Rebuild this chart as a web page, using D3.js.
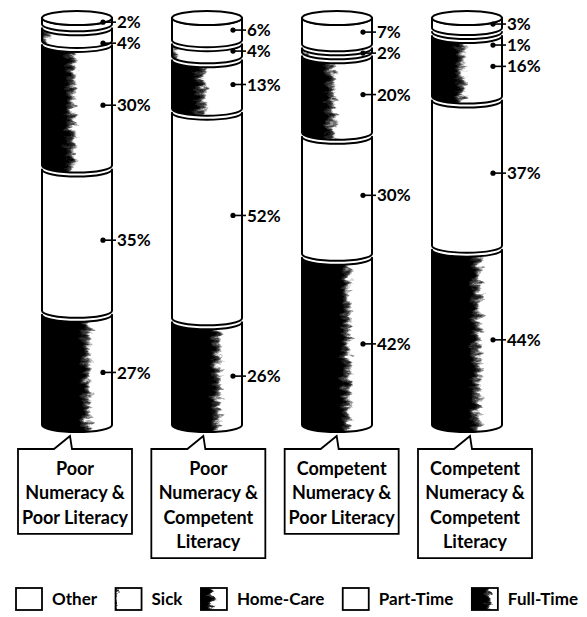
<!DOCTYPE html>
<html>
<head>
<meta charset="utf-8">
<script src="https://cdn.jsdelivr.net/npm/d3@7"></script>
<style>
  html, body { margin: 0; padding: 0; background: #fff; }
  svg { display: block; font-family: Lato, "Open Sans", sans-serif; }
</style>
</head>
<body>
<svg id="chart" width="587" height="617"></svg>
<script>
// Groups (one cylinder each), text split into the lines shown in the callouts
const categories = [
  ["Poor", "Numeracy &", "Poor Literacy"],
  ["Poor", "Numeracy &", "Competent", "Literacy"],
  ["Competent", "Numeracy &", "Poor Literacy"],
  ["Competent", "Numeracy &", "Competent", "Literacy"]
];

// Stack order, bottom to top
const seriesKeys = ["Full-Time", "Part-Time", "Home-Care", "Sick", "Other"];

// Percentages per group
const fullTime = [27, 26, 42, 44];
const partTime = [35, 52, 30, 37];
const homeCare = [30, 13, 20, 16];
const sick     = [4, 4, 2, 1];
const other    = [2, 6, 7, 3];

const legendOrder = ["Other", "Sick", "Home-Care", "Part-Time", "Full-Time"];

// share of the drum width that is shaded dark, per activity
const darkShare = { "Full-Time": 0.64, "Part-Time": 0, "Home-Care": 0.42, "Sick": 0.04, "Other": 0 };

const svg = d3.select("#chart");
const defs = svg.append("defs");

// ragged edge for the shaded part
const rough = defs.append("filter").attr("id", "rough")
  .attr("x", "-20%").attr("y", "-10%").attr("width", "140%").attr("height", "120%");
rough.append("feTurbulence").attr("type", "fractalNoise")
  .attr("baseFrequency", "0.09 0.22").attr("numOctaves", 3).attr("seed", 7).attr("result", "noise");
rough.append("feDisplacementMap").attr("in", "SourceGraphic").attr("in2", "noise")
  .attr("scale", 16).attr("xChannelSelector", "R").attr("yChannelSelector", "G");

const rows = categories.map((c, i) => ({
  idx: i,
  "Full-Time": fullTime[i], "Part-Time": partTime[i], "Home-Care": homeCare[i],
  "Sick": sick[i], "Other": other[i]
}));
const stacked = d3.stack().keys(seriesKeys)(rows);
const totals = rows.map(r => d3.sum(seriesKeys, k => r[k]));

const x = d3.scalePoint().domain(d3.range(categories.length)).range([77, 467]);
const xBox = d3.scalePoint().domain(d3.range(categories.length)).range([75, 475]);
const cylW = 70, ry = 7, gap = 4;
const yTopPx = 18, yBottomPx = 425;
const yScales = totals.map(t => d3.scaleLinear().domain([0, t]).range([yBottomPx, yTopPx]));

function drumPath(x0, x1, yt, yb) {
  const rx = (x1 - x0) / 2;
  return `M${x0},${yt} L${x0},${yb} A${rx},${ry} 0 0 0 ${x1},${yb} L${x1},${yt} A${rx},${ry} 0 0 1 ${x0},${yt} Z`;
}

// horizontal gradient: black on the left fading to white at the given share
function gradFor(id, share, pad, width) {
  const total = width + 2 * pad;
  const s = (pad + share * width) / total;
  const g = defs.append("linearGradient").attr("id", id)
    .attr("x1", "0").attr("x2", "1").attr("y1", "0").attr("y2", "0");
  g.append("stop").attr("offset", 0).attr("stop-color", "#000");
  g.append("stop").attr("offset", Math.max(0, s - 0.06)).attr("stop-color", "#000");
  g.append("stop").attr("offset", s).attr("stop-color", "#444");
  g.append("stop").attr("offset", Math.min(1, s + 0.05)).attr("stop-color", "#fff");
  g.append("stop").attr("offset", 1).attr("stop-color", "#fff");
}
seriesKeys.forEach(k => {
  if (darkShare[k] > 0) {
    gradFor("g-" + k.replace(/\W/g, ""), darkShare[k], 10, cylW);
    gradFor("lg-" + k.replace(/\W/g, ""), darkShare[k], 6, 26);
  }
});

const cyl = svg.append("g").attr("class", "cylinders");

categories.forEach((cat, i) => {
  const cx = x(i), x0 = cx - cylW / 2, x1 = cx + cylW / 2;
  const y = yScales[i];
  const g = cyl.append("g");
  const labels = [];

  stacked.forEach(layer => {
    const key = layer.key;
    const [v0, v1] = layer[i];
    const yt = y(v1) + (v1 >= totals[i] ? 0 : gap / 2);
    const yb = y(v0) - (v0 <= 0 ? 0 : gap / 2);
    const d = drumPath(x0, x1, yt, yb);
    const clipId = `clip-${i}-${key.replace(/\W/g, "")}`;
    defs.append("clipPath").attr("id", clipId).append("path").attr("d", d);

    g.append("path").attr("d", d).attr("fill", "#fff");
    if (darkShare[key] > 0) {
      g.append("rect")
        .attr("x", x0 - 10).attr("width", cylW + 20)
        .attr("y", yt - 12).attr("height", yb - yt + 24)
        .attr("fill", `url(#g-${key.replace(/\W/g, "")})`)
        .attr("filter", "url(#rough)")
        .attr("clip-path", `url(#${clipId})`);
    }
    g.append("path").attr("d", d).attr("fill", "none")
      .attr("stroke", "#000").attr("stroke-width", 2).attr("stroke-linejoin", "round");

    labels.push({ key, value: layer[i].data[key], y: (y(v0) + y(v1)) / 2 + (v0 <= 0 ? ry / 2 : 0) });
  });

  // lid on top of the drum stack
  g.append("ellipse").attr("cx", cx).attr("cy", yTopPx).attr("rx", cylW / 2).attr("ry", ry)
    .attr("fill", "#fff").attr("stroke", "#000").attr("stroke-width", 2);

  // spread value labels from the top down so small slices don't collide
  labels.sort((a, b) => a.y - b.y);
  const minGap = 21;
  labels.forEach((l, j) => {
    l.ly = j === 0 ? Math.max(l.y, 22) : Math.max(l.y, labels[j - 1].ly + minGap);
  });

  const lg = g.append("g").attr("class", "labels");
  labels.forEach(l => {
    const dotX = x1 - 9;
    lg.append("line").attr("x1", dotX).attr("x2", x1 + 4)
      .attr("y1", l.ly).attr("y2", l.ly)
      .attr("stroke", "#000").attr("stroke-width", 1.6);
    lg.append("circle").attr("cx", dotX).attr("cy", l.ly).attr("r", 2.6).attr("fill", "#000");
    lg.append("text").attr("x", x1 + 5).attr("y", l.ly).attr("dy", "0.36em")
      .attr("font-size", 17).attr("font-weight", 700).attr("fill", "#000")
      .text(l.value + "%");
  });
});

// callout boxes under each cylinder
const boxTop = 449, boxW = 114, lineH = 24.3, tipY = 436;
const boxes = svg.append("g").attr("class", "callouts");
categories.forEach((lines, i) => {
  const bc = xBox(i);
  const bx0 = bc - boxW / 2, bx1 = bc + boxW / 2;
  const bottom = boxTop + 12 + lines.length * lineH;
  const tipX = bc - 5;
  const p = `M${bx0},${boxTop} L${tipX - 16},${boxTop} L${tipX},${tipY} L${tipX + 2},${boxTop} L${bx1},${boxTop} L${bx1},${bottom} L${bx0},${bottom} Z`;
  boxes.append("path").attr("d", p).attr("fill", "#fff")
    .attr("stroke", "#000").attr("stroke-width", 1.8).attr("stroke-linejoin", "miter");
  lines.forEach((t, j) => {
    boxes.append("text").attr("x", bc).attr("y", boxTop + 26 + j * lineH)
      .attr("text-anchor", "middle").attr("font-size", 18).attr("font-weight", 700)
      .text(t);
  });
});

// legend along the bottom, spread across the width
const legend = svg.append("g").attr("class", "legend");
const legY = 588, swW = 26, swH = 22, textGap = 10;
const items = legendOrder.map(k => {
  const g = legend.append("g");
  g.append("rect").attr("x", 0).attr("y", 0).attr("width", swW).attr("height", swH)
    .attr("fill", "#fff");
  if (darkShare[k] > 0) {
    g.append("rect").attr("x", -6).attr("y", -4).attr("width", swW + 12).attr("height", swH + 8)
      .attr("fill", `url(#lg-${k.replace(/\W/g, "")})`).attr("filter", "url(#rough)")
      .attr("clip-path", `url(#legclip)`);
  }
  g.append("rect").attr("x", 0).attr("y", 0).attr("width", swW).attr("height", swH)
    .attr("fill", "none").attr("stroke", "#000").attr("stroke-width", 1.8);
  const t = g.append("text").attr("x", swW + textGap).attr("y", swH / 2).attr("dy", "0.36em")
    .attr("font-size", 17).attr("font-weight", 700).text(k);
  return { g, w: swW + textGap + t.node().getComputedTextLength() };
});
defs.append("clipPath").attr("id", "legclip").append("rect")
  .attr("x", 0).attr("y", 0).attr("width", swW).attr("height", swH);
const legL = 16, legR = 578;
const spare = (legR - legL - d3.sum(items, d => d.w)) / (items.length - 1);
let cursor = legL;
items.forEach(it => {
  it.g.attr("transform", `translate(${cursor},${legY})`);
  cursor += it.w + spare;
});
</script>
</body>
</html>
